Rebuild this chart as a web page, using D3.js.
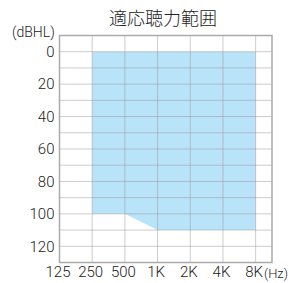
<!DOCTYPE html>
<html>
<head>
<meta charset="utf-8">
<script src="https://cdn.jsdelivr.net/npm/d3@7"></script>
<style>
  body { margin: 0; background: #fff; }
  svg text { font-family: Roboto, 'Noto Sans', sans-serif; font-weight: 300; fill: #222; }
  svg text.title { font-family: 'Noto Sans CJK JP', sans-serif; font-weight: 300; }
</style>
</head>
<body>
<svg width="289" height="283"></svg>
<script>
const freqs = [125, 250, 500, 1000, 2000, 4000, 8000]
const freqLabels = ['125', '250', '500', '1K', '2K', '4K', '8K']
const dbTicks = [0, 20, 40, 60, 80, 100, 120]
const gridDb = [0, 10, 20, 30, 40, 50, 60, 70, 80, 90, 100, 110, 120]

// fitting range: upper limit 0 dB, lower limit per frequency
const rangeFreq = [250, 500, 1000, 8000]
const rangeLow = [100, 100, 110, 110]
const rangeHigh = [0, 0, 0, 0]

const svg = d3.select('svg')

const x = d3.scaleLog().base(2).domain([125, 8000 * Math.SQRT2]).range([59.5, 272])
const y = d3.scaleLinear().domain([-10, 130]).range([35.5, 262.5])

// area
const area = d3.area()
  .x((d, i) => x(rangeFreq[i]))
  .y0((d, i) => y(rangeLow[i]))
  .y1((d, i) => y(rangeHigh[i]))

svg.append('path')
  .datum(rangeFreq)
  .attr('d', area)
  .attr('fill', '#b8e3f8')

// grid
svg.append('g')
  .selectAll('line')
  .data(gridDb)
  .enter()
  .append('line')
  .attr('x1', x(125))
  .attr('x2', x(8000 * Math.SQRT2))
  .attr('y1', (d) => y(d))
  .attr('y2', (d) => y(d))
  .attr('stroke', '#999')
  .attr('stroke-width', 1)
  .attr('stroke-dasharray', '1,1')

svg.append('g')
  .selectAll('line')
  .data(freqs.slice(1))
  .enter()
  .append('line')
  .attr('x1', (d) => x(d))
  .attr('x2', (d) => x(d))
  .attr('y1', y(-10))
  .attr('y2', y(130))
  .attr('stroke', '#999')
  .attr('stroke-width', 1)
  .attr('stroke-dasharray', '1,1')

// frame
svg.append('rect')
  .attr('x', x(125))
  .attr('y', y(-10))
  .attr('width', x(8000 * Math.SQRT2) - x(125))
  .attr('height', y(130) - y(-10))
  .attr('fill', 'none')
  .attr('stroke', '#aaa')
  .attr('stroke-width', 1.5)

// axes
const xAxis = d3.axisBottom(x)
  .tickValues(freqs)
  .tickFormat((d, i) => freqLabels[i])
  .tickSize(0)
  .tickPadding(4)

svg.append('g')
  .attr('transform', `translate(0, ${y(130)})`)
  .call(xAxis)
  .call((g) => g.select('.domain').remove())
  .selectAll('text')
  .attr('font-size', 15)
  .attr('dx', -2)
  .attr('fill', '#222')

const yAxis = d3.axisLeft(y)
  .tickValues(dbTicks)
  .tickSize(0)
  .tickPadding(5)

svg.append('g')
  .attr('transform', `translate(${x(125)}, 0)`)
  .call(yAxis)
  .call((g) => g.select('.domain').remove())
  .selectAll('text')
  .attr('font-size', 15)
  .attr('fill', '#222')

svg.append('text')
  .attr('class', 'title')
  .attr('x', 163)
  .attr('y', 25)
  .attr('text-anchor', 'middle')
  .attr('font-size', 18)
  .text('適応聴力範囲')

svg.append('text')
  .attr('x', 12)
  .attr('y', 37)
  .attr('font-size', 14)
  .text('(dBHL)')

svg.append('text')
  .attr('x', 264)
  .attr('y', 277.5)
  .attr('font-size', 13)
  .text('(Hz)')
</script>
</body>
</html>
